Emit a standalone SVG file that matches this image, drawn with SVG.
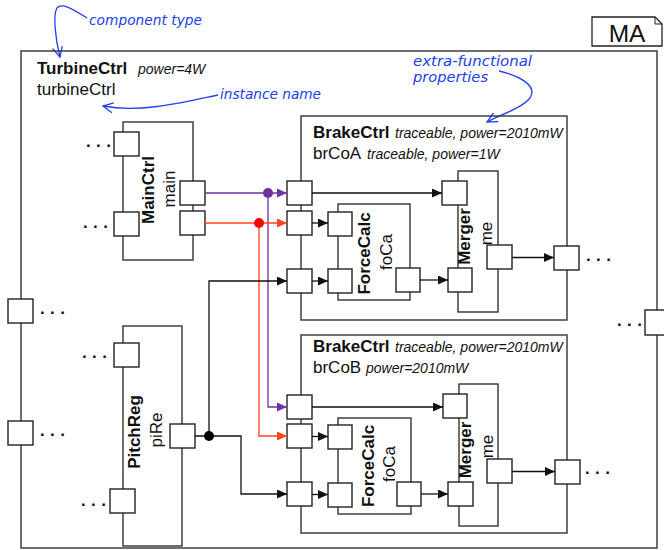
<svg xmlns="http://www.w3.org/2000/svg" width="664" height="550" viewBox="0 0 664 550">
<style>
.box{fill:none;stroke:#333;stroke-width:1.4}
.port{fill:#fff;stroke:#222;stroke-width:1.4}
.c{fill:none;stroke:#111;stroke-width:1.3}
.pu{fill:none;stroke:#7030A0;stroke-width:1.3}
.rd{fill:none;stroke:#FF4418;stroke-width:1.3}
.b{font-family:"Liberation Sans",Arial,sans-serif;font-weight:bold;font-size:17px;fill:#111}
.r{font-family:"Liberation Sans",Arial,sans-serif;font-size:17px;fill:#111}
.i{font-family:"Liberation Sans",Arial,sans-serif;font-style:italic;font-size:14px;fill:#111}
.d{font-family:"Liberation Sans",Arial,sans-serif;font-weight:bold;font-size:17px;letter-spacing:5.4px;fill:#111}
.ann{font-family:"DejaVu Sans",sans-serif;font-style:italic;font-size:14px;fill:#2040F0}
.al{fill:none;stroke:#2040F0;stroke-width:1.3}
</style>
<defs>
<marker id="ab" markerUnits="userSpaceOnUse" markerWidth="10" markerHeight="10" refX="10" refY="4.5" orient="auto"><path d="M0,0 L10,4.5 L0,9 z" fill="#111"/></marker>
<marker id="ap" markerUnits="userSpaceOnUse" markerWidth="10" markerHeight="10" refX="10" refY="4.5" orient="auto"><path d="M0,0 L10,4.5 L0,9 z" fill="#7030A0"/></marker>
<marker id="ar" markerUnits="userSpaceOnUse" markerWidth="10" markerHeight="10" refX="10" refY="4.5" orient="auto"><path d="M0,0 L10,4.5 L0,9 z" fill="#FF4418"/></marker>
<marker id="ao" markerUnits="userSpaceOnUse" markerWidth="14" markerHeight="14" refX="11" refY="6" orient="auto"><path d="M1,1 L11,6 L1,11" fill="none" stroke="#2040F0" stroke-width="1.3"/></marker>
</defs>

<!-- annotations -->
<g id="annotations">
<text class="ann" x="89" y="25" textLength="113" lengthAdjust="spacingAndGlyphs">component type</text>
<path class="al" d="M87 18 C74 10 62 2 57 8 C53 14 55 38 60 57" marker-end="url(#ao)"/>
<text class="ann" x="220" y="99" textLength="101" lengthAdjust="spacingAndGlyphs">instance name</text>
<path class="al" d="M218 95 C180 103 140 113 103 106" marker-end="url(#ao)"/>
<text class="ann" x="413" y="66" textLength="119" lengthAdjust="spacingAndGlyphs">extra-functional</text>
<text class="ann" x="413" y="82" textLength="75" lengthAdjust="spacingAndGlyphs">properties</text>
<path class="al" d="M499 71 C520 76 538 86 530 98 C522 108 502 114 487 122" marker-end="url(#ao)"/>
</g>

<!-- MA -->
<g id="ma">
<path d="M592 17 H655 L662 24 V46 H592 Z" fill="#fff" stroke="#222" stroke-width="1.3"/>
<path d="M655 17 V24 H662" fill="none" stroke="#222" stroke-width="1"/>
<text class="r" x="627" y="42" text-anchor="middle" style="font-size:24.5px">MA</text>
</g>

<!-- TurbineCtrl -->
<g id="turbineCtrl">
<rect class="box" x="21" y="51" width="636" height="497"/>
<text class="b" x="37" y="74">TurbineCtrl</text>
<text class="i" x="138" y="74">power=4W</text>
<text class="r" x="37" y="95">turbineCtrl</text>
<rect class="port" x="8" y="299" width="25" height="24"/>
<rect class="port" x="8" y="421" width="25" height="24"/>
<rect class="port" x="645" y="310" width="25" height="25"/>
<text class="d" x="40" y="314">...</text>
<text class="d" x="40" y="436">...</text>
<text class="d" x="617" y="326">...</text>
</g>

<!-- MainCtrl -->
<g id="main">
<rect class="box" x="123" y="122" width="70" height="138"/>
<rect class="port" x="114" y="132" width="25" height="24"/>
<rect class="port" x="114" y="212" width="25" height="24"/>
<rect class="port" x="180" y="181" width="25" height="24"/>
<rect class="port" x="180" y="211" width="25" height="24"/>
<text class="b" text-anchor="middle" transform="translate(154,190) rotate(-90)">MainCtrl</text>
<text class="r" text-anchor="middle" transform="translate(175,189) rotate(-90)">main</text>
<text class="d" x="86" y="147">...</text>
<text class="d" x="83" y="228">...</text>
</g>

<!-- PitchReg -->
<g id="piRe">
<rect class="box" x="123" y="326" width="59" height="220"/>
<rect class="port" x="114" y="343" width="25" height="24"/>
<rect class="port" x="110" y="489" width="25" height="24"/>
<rect class="port" x="170" y="424" width="25" height="24"/>
<text class="b" text-anchor="middle" transform="translate(140,432) rotate(-90)">PitchReg</text>
<text class="r" text-anchor="middle" transform="translate(162,430) rotate(-90)">piRe</text>
<text class="d" x="82" y="358">...</text>
<text class="d" x="81" y="506">...</text>
</g>

<!-- BrakeCtrl A -->
<g id="brCoA">
<rect class="box" x="301" y="116" width="266" height="204"/>
<text class="b" x="313" y="138">BrakeCtrl</text>
<text class="i" x="395" y="138">traceable, power=2010mW</text>
<text class="r" x="313" y="159">brCoA</text>
<text class="i" x="367" y="159">traceable, power=1W</text>
<rect class="port" x="287" y="181" width="25" height="24"/>
<rect class="port" x="287" y="211" width="25" height="24"/>
<rect class="port" x="287" y="269" width="25" height="24"/>
<rect class="port" x="554" y="246" width="25" height="24"/>
<text class="d" x="586" y="261">...</text>
</g>
<g id="foCaA">
<rect class="box" x="338" y="204" width="72" height="96"/>
<rect class="port" x="328" y="212" width="24" height="24"/>
<rect class="port" x="328" y="269" width="24" height="24"/>
<rect class="port" x="396" y="268" width="24" height="24"/>
<text class="b" text-anchor="middle" transform="translate(370,253.5) rotate(-90)">ForceCalc</text>
<text class="r" text-anchor="middle" transform="translate(392,252) rotate(-90)">foCa</text>
</g>
<g id="meA">
<rect class="box" x="458" y="171" width="40" height="141"/>
<rect class="port" x="442" y="181" width="25" height="24"/>
<rect class="port" x="448" y="268" width="24" height="24"/>
<rect class="port" x="487" y="245" width="25" height="24"/>
<text class="b" text-anchor="middle" transform="translate(470,236.5) rotate(-90)">Merger</text>
<text class="r" text-anchor="middle" transform="translate(492,233.5) rotate(-90)">me</text>
</g>

<!-- BrakeCtrl B -->
<g id="brCoB">
<rect class="box" x="301" y="335" width="266" height="198"/>
<text class="b" x="313" y="352">BrakeCtrl</text>
<text class="i" x="395" y="352">traceable, power=2010mW</text>
<text class="r" x="313" y="373">brCoB</text>
<text class="i" x="366" y="373">power=2010mW</text>
<rect class="port" x="287" y="395" width="25" height="24"/>
<rect class="port" x="287" y="424" width="25" height="24"/>
<rect class="port" x="287" y="482" width="25" height="24"/>
<rect class="port" x="555" y="460" width="25" height="24"/>
<text class="d" x="585" y="474">...</text>
</g>
<g id="foCaB">
<rect class="box" x="338" y="418" width="73" height="96"/>
<rect class="port" x="328" y="425" width="24" height="24"/>
<rect class="port" x="328" y="483" width="24" height="24"/>
<rect class="port" x="397" y="482" width="24" height="24"/>
<text class="b" text-anchor="middle" transform="translate(374,466) rotate(-90)">ForceCalc</text>
<text class="r" text-anchor="middle" transform="translate(395,464) rotate(-90)">foCa</text>
</g>
<g id="meB">
<rect class="box" x="459" y="384" width="39" height="142"/>
<rect class="port" x="443" y="394" width="24" height="24"/>
<rect class="port" x="448" y="482" width="25" height="24"/>
<rect class="port" x="487" y="459" width="25" height="24"/>
<text class="b" text-anchor="middle" transform="translate(471,450) rotate(-90)">Merger</text>
<text class="r" text-anchor="middle" transform="translate(493,446.5) rotate(-90)">me</text>
</g>

<!-- connectors -->
<g id="connectors">
<path class="pu" d="M205 193 H287" marker-end="url(#ap)"/>
<path class="pu" d="M268 193 V407 H287" marker-end="url(#ap)"/>
<circle cx="268" cy="193" r="5" fill="#7030A0"/>
<path class="rd" d="M205 223 H287" marker-end="url(#ar)"/>
<path class="rd" d="M259 223 V436 H287" marker-end="url(#ar)"/>
<circle cx="259" cy="223" r="5" fill="#FF0000"/>
<path class="c" d="M195 436 H209 V281 H287" marker-end="url(#ab)"/>
<path class="c" d="M209 436 H241 V494 H287" marker-end="url(#ab)"/>
<circle cx="209" cy="436" r="5" fill="#000"/>
<path class="c" d="M312 193 H442" marker-end="url(#ab)"/>
<path class="c" d="M312 223 H328" marker-end="url(#ab)"/>
<path class="c" d="M312 281 H328" marker-end="url(#ab)"/>
<path class="c" d="M420 280 H448" marker-end="url(#ab)"/>
<path class="c" d="M512 257.5 H554" marker-end="url(#ab)"/>
<path class="c" d="M312 407 H443" marker-end="url(#ab)"/>
<path class="c" d="M312 436.5 H328" marker-end="url(#ab)"/>
<path class="c" d="M312 494.5 H328" marker-end="url(#ab)"/>
<path class="c" d="M421 494 H448" marker-end="url(#ab)"/>
<path class="c" d="M512 471.5 H555" marker-end="url(#ab)"/>
</g>
</svg>
